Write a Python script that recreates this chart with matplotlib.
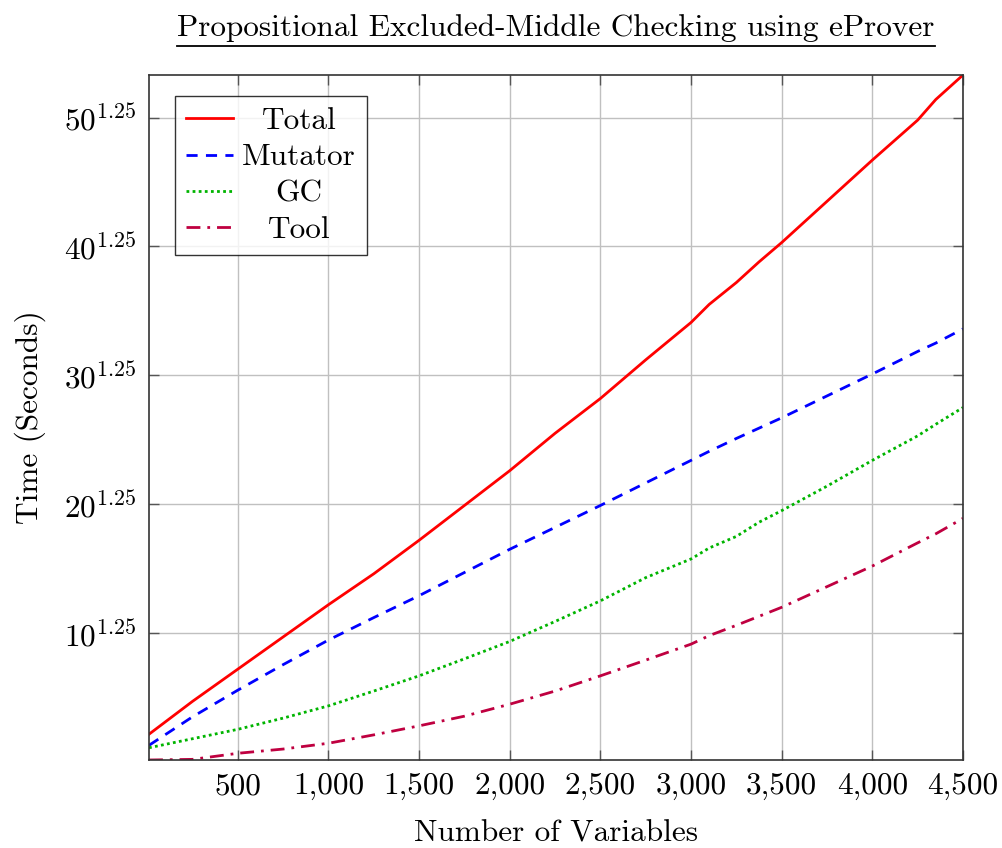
import matplotlib
matplotlib.use('Agg')
import matplotlib.pyplot as plt
from matplotlib.lines import Line2D

plt.rcParams['font.family'] = 'serif'
plt.rcParams['font.serif'] = ['cmr10', 'DejaVu Serif']
plt.rcParams['mathtext.fontset'] = 'cm'
plt.rcParams['axes.formatter.use_mathtext'] = True

# number of variables
variables = [10, 250, 500, 750, 1000, 1250, 1500, 1750, 2000, 2250, 2500,
             2750, 3000, 3100, 3250, 3375, 3500, 3750, 4000, 4250, 4350, 4500]

# times, read on the axis scale (label u^1.25 -> value u)
total = [2.15, 4.7, 7.2, 9.7, 12.2, 14.6, 17.2, 19.9, 22.6, 25.5, 28.2,
         31.2, 34.1, 35.5, 37.2, 38.8, 40.3, 43.5, 46.7, 49.8, 51.4, 53.3]
mutator = [1.29, 3.5, 5.57, 7.55, 9.46, 11.2, 12.9, 14.7, 16.5, 18.2, 19.9,
           21.65, 23.4, 24.1, 25.1, 25.9, 26.7, 28.4, 30.1, 31.85, 32.5, 33.6]
gc = [1.1, 1.8, 2.53, 3.4, 4.35, 5.5, 6.68, 8.0, 9.35, 10.9, 12.5,
      14.3, 15.75, 16.6, 17.5, 18.6, 19.5, 21.4, 23.4, 25.3, 26.2, 27.5]
tool = [0.15, 0.2, 0.67, 1.0, 1.45, 2.1, 2.8, 3.55, 4.48, 5.5, 6.68,
        7.9, 9.14, 9.8, 10.6, 11.3, 12.0, 13.6, 15.2, 17.0, 17.7, 18.9]

xticks = [500, 1000, 1500, 2000, 2500, 3000, 3500, 4000, 4500]
yticks = [10, 20, 30, 40, 50]
fs = 22.5

fig = plt.figure(figsize=(10.02, 8.48), dpi=100)
ax = fig.add_axes([149 / 1002, 1 - 760 / 848, 814 / 1002, 685 / 848])

ax.plot(variables, total, color='red', lw=2, label='Total')
ax.plot(variables, mutator, color='blue', lw=2, ls=(0, (4, 3)), label='Mutator')
ax.plot(variables, gc, color='#00b400', lw=2, ls=(0, (1, 1.2)), label='GC')
ax.plot(variables, tool, color='#bf0040', lw=2, ls=(0, (5, 2.5, 1, 2.5)), label='Tool')

ax.set_xlim(10, 4500)
ax.set_ylim(0.15, 53.3)
ax.set_xticks(xticks)
ax.set_xticklabels(['{:,}'.format(v) for v in xticks])
ax.set_yticks(yticks)
ax.set_yticklabels(['$%d^{1.25}$' % v for v in yticks])
ax.tick_params(direction='in', top=True, right=True, length=7, width=1,
               color='#555555', labelsize=fs, pad=9)
ax.grid(True, color='#c0c0c0', lw=1)
for s in ax.spines.values():
    s.set_color('#333333')
    s.set_linewidth(1.2)

ax.set_xlabel('Number of Variables', fontsize=fs, labelpad=14)
ax.set_ylabel('Time (Seconds)', fontsize=fs, labelpad=13)
ttl = ax.set_title('Propositional Excluded-Middle Checking using eProver',
                   fontsize=fs, pad=28)

leg = ax.legend(loc='upper left', bbox_to_anchor=(0.032, 0.969), fontsize=fs,
                frameon=True, fancybox=False, edgecolor='black',
                handlelength=1.5, borderpad=0.35, labelspacing=0.27,
                handletextpad=0.3, borderaxespad=0)
leg.get_frame().set_linewidth(1)

# centre the legend labels in their column, as pgfplots does
fig.canvas.draw()
widths = [t.get_window_extent().width for t in leg.get_texts()]
for t, w in zip(leg.get_texts(), widths):
    t.set_position(((max(widths) - w) / 2, 0))

# underline of the title
bb = ttl.get_window_extent().transformed(fig.transFigure.inverted())
fig.add_artist(Line2D([bb.x0, bb.x1], [bb.y0 - 0.004, bb.y0 - 0.004],
                      transform=fig.transFigure, color='black', lw=1.3))

fig.savefig('out.png', dpi=100)
